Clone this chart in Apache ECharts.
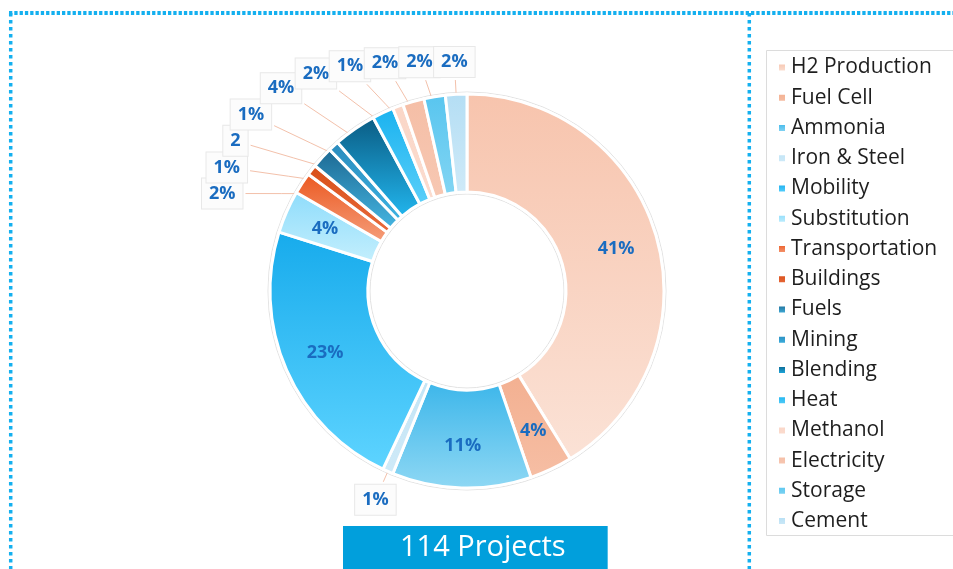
<!DOCTYPE html>
<html>
<head>
<meta charset="utf-8">
<script src="https://cdn.jsdelivr.net/npm/echarts@6/dist/echarts.min.js"></script>
<style>html,body{margin:0;padding:0;background:#fff}#c{width:953px;height:569px}</style>
</head>
<body>
<div id="c"></div>
<script>
// ---- data ----
const categories = ['H2 Production','Fuel Cell','Ammonia','Iron & Steel','Mobility','Substitution','Transportation','Buildings','Fuels','Mining','Blending','Heat','Methanol','Electricity','Storage','Cement'];
const projectCounts = [47, 4, 13, 1, 26, 4, 2, 1, 2, 1, 4, 2, 1, 2, 2, 2];
const labelTexts = ['41%','4%','11%','1%','23%','4%','2%','1%','2','1%','4%','2%','1%','2%','2%','2%'];
const insideLabelCategories = ['H2 Production','Fuel Cell','Ammonia','Mobility','Substitution'];
const titleText = '114 Projects';

// ---- styles ----
const sliceColors = [
  ['#f7c4ad','#fbe2d6'], ['#f3b091','#f6bea4'], ['#3cb6ea','#8fd8f4'], ['#c3e5f6','#cfeaf8'],
  ['#17abec','#5ed4ff'], ['#8edcfb','#c4effd'], ['#eb5820','#f59e7b'], ['#d84f19','#e86a3b'],
  ['#1c6892','#46b6e2'], ['#2a8abc','#3db3e2'], ['#0a5b82','#22b6ee'], ['#19b2ef','#5acff9'],
  ['#fad6c7','#fbdccf'], ['#f5bea6','#f7c8b3'], ['#58c5ef','#82d5f3'], ['#b4def4','#cfeaf8']
];
const CX = 467, CY = 291, R_IN = 99, R_OUT = 197;
const INSIDE_R = 155, LINE_R = 178;
const RX = 248, RY = 229, P = 3.6, RB = 228, W_GAP = 34, H_GAP = 26;
const labelBlue = '#1a6cc0';
const dotBlue = '#14b0ef';

// ---- label placement (computed from data angles) ----
const total = projectCounts.reduce((a, b) => a + b, 0);
const midDeg = [];
let acc = 0;
projectCounts.forEach(v => { midDeg.push((acc + v / 2) / total * 360); acc += v; });
const isInside = categories.map(c => insideLabelCategories.indexOf(c) >= 0);
function pathR(deg) {
  if (deg > 90 && deg < 270) return RB;
  const a = deg * Math.PI / 180;
  const s = Math.abs(Math.sin(a)), c = Math.abs(Math.cos(a));
  return 1 / Math.pow(Math.pow(s / RX, P) + Math.pow(c / RY, P), 1 / P);
}
function polar(deg, r) {
  const a = deg * Math.PI / 180;
  return [CX + r * Math.sin(a), CY - r * Math.cos(a)];
}
const labelPos = {};
const topLeft = categories.map((c, i) => i).filter(i => !isInside[i] && midDeg[i] > 270)
  .sort((a, b) => midDeg[b] - midDeg[a]);
let prevPos = null, prevDeg = null;
topLeft.forEach(i => {
  let d = midDeg[i];
  if (prevDeg !== null) d = Math.min(d, prevDeg - 0.25);
  let q = polar(d, pathR(d));
  if (prevPos) {
    while (Math.abs(q[0] - prevPos[0]) < W_GAP && Math.abs(q[1] - prevPos[1]) < H_GAP && d > 260) {
      d -= 0.25;
      q = polar(d, pathR(d));
    }
  }
  prevPos = q; prevDeg = d;
  labelPos[i] = q;
});
categories.forEach((c, i) => {
  if (!isInside[i] && !labelPos[i]) labelPos[i] = polar(midDeg[i], pathR(midDeg[i]));
});

function grad(pair) {
  return { type: 'linear', x: 0, y: 0, x2: 0, y2: 1,
    colorStops: [{ offset: 0, color: pair[0] }, { offset: 1, color: pair[1] }] };
}

const pieData = categories.map((name, i) => {
  const d = { name: name, value: projectCounts[i], itemStyle: { color: grad(sliceColors[i]) } };
  if (isInside[i]) {
    d.label = { position: 'inside', backgroundColor: 'transparent', borderWidth: 0, padding: 0 };
    d.labelLine = { show: false };
  }
  return d;
});

const chart = echarts.init(document.getElementById('c'), null, { renderer: 'canvas' });
chart.setOption({
  animation: false,
  backgroundColor: '#ffffff',
  title: {
    text: titleText,
    left: 343, top: 526,
    padding: [0, 42, 0, 57],
    backgroundColor: '#019fdc',
    textStyle: { color: '#ffffff', fontSize: 29, fontWeight: 'normal', fontFamily: 'Open Sans', lineHeight: 44 }
  },
  legend: {
    orient: 'vertical',
    left: 766, top: 57,
    padding: [0, 0, 0, 11],
    itemWidth: 8, itemHeight: 8,
    itemGap: 9.24,
    itemTextGap: 9,
    icon: 'rect',
    data: categories,
    textStyle: { fontSize: 21, lineHeight: 21, color: '#1e1e1e', fontFamily: 'Open Sans' }
  },
  graphic: [
    { type: 'rect', z: 0, shape: { x: 766.5, y: 50.5, width: 190, height: 485 },
      style: { fill: '#ffffff', stroke: '#dcdcdc', lineWidth: 1 } },
    { type: 'line', shape: { x1: 9, y1: 13, x2: 953, y2: 13 },
      style: { stroke: dotBlue, lineWidth: 4, lineDash: [3.3, 2] } },
    { type: 'line', shape: { x1: 10.7, y1: 13, x2: 10.7, y2: 569 },
      style: { stroke: dotBlue, lineWidth: 3.5, lineDash: [3.5, 3.5] } },
    { type: 'line', shape: { x1: 749.3, y1: 13, x2: 749.3, y2: 569 },
      style: { stroke: dotBlue, lineWidth: 3.5, lineDash: [3.5, 3.5] } }
  ],
  series: [{
    type: 'pie',
    name: 'outline',
    silent: true,
    z: 1,
    center: [CX, CY],
    radius: [R_IN - 2, R_OUT + 2],
    startAngle: 90,
    label: { show: false },
    labelLine: { show: false },
    itemStyle: { color: 'rgba(0,0,0,0)', borderColor: '#e2e2e2', borderWidth: 1 },
    emphasis: { disabled: true },
    data: [{ name: 'outline', value: total }]
  }, {
    type: 'pie',
    z: 2,
    center: [CX, CY],
    radius: [R_IN, R_OUT],
    startAngle: 90,
    clockwise: true,
    avoidLabelOverlap: false,
    itemStyle: { borderColor: '#ffffff', borderWidth: 3 },
    label: {
      show: true,
      position: 'outside',
      formatter: p => labelTexts[p.dataIndex],
      color: labelBlue,
      fontSize: 18,
      lineHeight: 18,
      fontWeight: 'bold',
      fontFamily: 'Open Sans',
      backgroundColor: '#fcfcfc',
      borderColor: '#e8e8e8',
      borderWidth: 1,
      padding: [6, 7, 6, 7]
    },
    labelLine: {
      show: true, length: 10, length2: 10, smooth: false,
      lineStyle: { color: '#f3c1ab', width: 1 }
    },
    labelLayout: function (p) {
      const i = p.dataIndex;
      if (isInside[i]) {
        const q = polar(midDeg[i], INSIDE_R);
        return { x: q[0], y: q[1], align: 'center', verticalAlign: 'middle' };
      }
      const pos = labelPos[i];
      const w = p.labelRect.width, h = p.labelRect.height;
      const s = polar(midDeg[i], LINE_R);
      const dx = s[0] - pos[0], dy = s[1] - pos[1];
      const t = Math.min((w / 2 + 2) / Math.max(Math.abs(dx), 1e-6), (h / 2 + 2) / Math.max(Math.abs(dy), 1e-6), 1);
      const e = [pos[0] + dx * t, pos[1] + dy * t];
      return {
        x: pos[0], y: pos[1], align: 'center', verticalAlign: 'middle',
        labelLinePoints: [[s[0], s[1]], [(s[0] + e[0]) / 2, (s[1] + e[1]) / 2], [e[0], e[1]]]
      };
    },
    data: pieData
  }]
});
</script>
</body>
</html>
